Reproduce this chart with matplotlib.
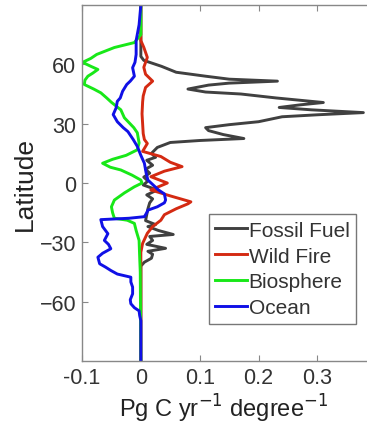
import matplotlib
matplotlib.use("Agg")
import matplotlib.pyplot as plt
import numpy as np

plt.rcParams['font.family'] = ['Liberation Sans', 'DejaVu Sans']

# zonal flux profiles: columns are (latitude, Pg C / yr / degree)
fossil_fuel = np.array([
    [90, 0], [64, 0], [62, 0.005], [60.5, 0.02], [59, 0.035], [56, 0.06],
    [54, 0.11], [52.5, 0.15], [51.5, 0.232], [50.5, 0.15], [49.5, 0.115],
    [47.5, 0.08], [46, 0.11], [45, 0.17], [43, 0.23], [40.7, 0.31],
    [39.5, 0.27], [38.2, 0.235], [37, 0.29], [35.6, 0.378], [34.5, 0.3],
    [33.5, 0.24], [31, 0.2], [29.5, 0.15], [28, 0.11], [26.5, 0.115],
    [24.5, 0.14], [22.5, 0.175], [21.5, 0.1], [20.5, 0.05], [18, 0.028],
    [15, 0.018], [13, 0.025], [11.5, 0.01], [9, 0.02], [7, 0.008],
    [5, 0.015], [3, 0.005], [1, 0.012], [-1, 0.004], [-3.5, 0.028],
    [-6, 0.01], [-8, 0.02], [-10, 0.015], [-13, 0.012], [-16, 0.01],
    [-19, 0.008], [-21, 0.025], [-22, 0.012], [-24, 0.03], [-26, 0.055],
    [-27, 0.015], [-29, 0.02], [-31, 0.01], [-33, 0.042], [-34.5, 0.012],
    [-36, 0.02], [-38, 0.018], [-40, 0.006], [-42, 0], [-90, 0],
])
wild_fire = np.array([
    [90, 0], [72, 0], [68.6, 0.005], [63.5, 0.011], [61, 0.008],
    [58.5, 0.005], [55, 0.008], [51.5, 0.02], [48.3, 0.008], [44, 0.004],
    [41, 0.003], [35, 0.002], [30, 0.003], [25, 0.004], [22, 0.006],
    [20, 0.011], [16, 0.003], [13.4, 0.034], [10.5, 0.05], [8.3, 0.07],
    [6, 0.04], [3.2, 0.017], [0, 0.045], [-3.5, 0.017], [-6.5, 0.05],
    [-9.5, 0.085], [-10.5, 0.08], [-13, 0.06], [-16, 0.04], [-18.8, 0.034],
    [-22, 0.02], [-25.4, 0.011], [-30.5, 0.003], [-35, 0], [-90, 0],
])
biosphere = np.array([
    [90, 0], [75, 0], [71, -0.011], [68.5, -0.045], [65, -0.075],
    [63, -0.085], [61, -0.099], [59, -0.085], [57.4, -0.073], [55.5, -0.082],
    [54, -0.09], [52, -0.095], [49.8, -0.096], [47.5, -0.08], [45.6, -0.068],
    [43, -0.058], [40.8, -0.05], [37, -0.034], [33, -0.028], [30.5, -0.02],
    [28, -0.012], [25.4, -0.006], [20.3, -0.003], [16.8, -0.006],
    [14, -0.025], [12, -0.048], [10, -0.065], [8, -0.052], [6.6, -0.034],
    [4, -0.015], [1.5, 0], [0, 0.002], [-1.9, -0.011], [-5, -0.028],
    [-8.6, -0.045], [-12, -0.05], [-15, -0.048], [-17.8, -0.045],
    [-18.8, -0.023], [-20.4, -0.011], [-24, -0.008], [-29, -0.003],
    [-37.5, -0.002], [-45, -0.001], [-90, 0],
])
ocean = np.array([
    [90, 0], [80, -0.003], [72, -0.008], [65, -0.008], [61, -0.01],
    [58.3, -0.014], [54, -0.011], [51.5, -0.018], [49.8, -0.024],
    [46.4, -0.031], [43, -0.035], [41.3, -0.04], [38, -0.042], [34.6, -0.047],
    [31, -0.04], [28, -0.03], [26, -0.022], [22, -0.013], [18.5, -0.006],
    [14, 0], [10, 0.006], [5, 0.009], [1.5, 0.012], [-3.5, 0.03],
    [-5.5, 0.04], [-8.6, 0.042], [-10, 0.04], [-12, 0.028], [-13.7, 0.012],
    [-15, 0.01], [-17, 0.006], [-17.8, -0.02], [-18.5, -0.068], [-22, -0.065],
    [-25.6, -0.056], [-29, -0.062], [-31, -0.055], [-33.2, -0.051],
    [-35.5, -0.065], [-37.5, -0.073], [-40.8, -0.07], [-42.5, -0.06],
    [-44.2, -0.051], [-46, -0.04], [-47.6, -0.017], [-50, -0.017],
    [-52.6, -0.014], [-56, -0.014], [-59, -0.018], [-61, -0.017],
    [-63, -0.011], [-64.6, -0.003], [-67, -0.002], [-69.6, 0], [-90, 0],
])

series = [
    ("Fossil Fuel", fossil_fuel, "#404040"),
    ("Wild Fire", wild_fire, "#d42a12"),
    ("Biosphere", biosphere, "#18e818"),
    ("Ocean", ocean, "#1010e6"),
]
xticks = [-0.1, 0, 0.1, 0.2, 0.3]
xticklabels = ["-0.1", "0", "0.1", "0.2", "0.3"]
yticks = [-60, -30, 0, 30, 60]

fig = plt.figure(figsize=(3.67, 4.27), dpi=100)
ax = fig.add_axes([0.2234, 0.152, 0.802, 0.834])

for name, d, color in series:
    ax.plot(d[:, 1], d[:, 0], color=color, lw=2.1, label=name)

ax.set_xlim(-0.1, 0.4)
ax.set_ylim(-90, 90)
ax.set_xticks(xticks)
ax.set_xticklabels(xticklabels)
ax.set_yticks(yticks)
ax.tick_params(direction="in", top=True, right=True, length=4, width=0.8,
               colors="#888888", labelcolor="#333333", labelsize=15.5, pad=4)
for sp in ax.spines.values():
    sp.set_color("#888888")
    sp.set_linewidth(1.0)

ax.set_ylabel("Latitude", fontsize=19, color="#222222")
ax.yaxis.set_label_coords(-0.153, 0.5)
ax.set_xlabel("Pg C yr$^{-1}$ degree$^{-1}$", fontsize=17, color="#222222")
ax.xaxis.set_label_coords(0.48, -0.085)

leg = ax.legend(loc="upper left", bbox_to_anchor=(0.432, 0.412),
                borderaxespad=0, fontsize=15, handlelength=1.5,
                handletextpad=0.1, labelspacing=0.33, borderpad=0.3,
                fancybox=False, framealpha=1)
leg.get_frame().set_edgecolor("#777777")
leg.get_frame().set_linewidth(1.0)
for t in leg.get_texts():
    t.set_color("#333333")

fig.savefig("out.png", dpi=100)
